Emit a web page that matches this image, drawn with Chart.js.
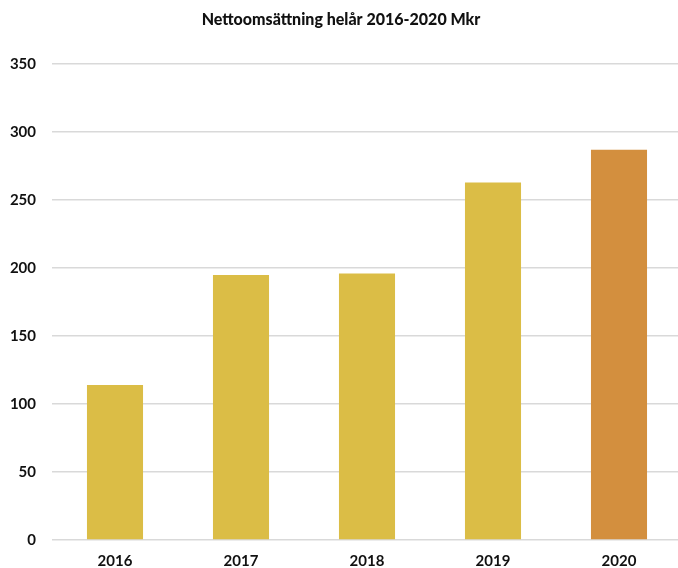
<!DOCTYPE html>
<html>
<head>
<meta charset="utf-8">
<script src="https://cdn.jsdelivr.net/npm/chart.js@4/dist/chart.umd.min.js"></script>
<style>
  html, body { margin: 0; padding: 0; background: #fff; overflow: hidden; }
  #wrap { width: 682px; height: 568px; }
</style>
</head>
<body>
<div id="wrap"><canvas id="nettoChart" width="682" height="568"></canvas></div>
<script>
// data
let years = ["2016", "2017", "2018", "2019", "2020"];
let netSales = [114, 195, 196, 263, 287];
let barColors = ["#DBBD46", "#DBBD46", "#DBBD46", "#DBBD46", "#D38F3E"];
let yTicks = [0, 50, 100, 150, 200, 250, 300, 350];

let fontFamily = "Lato, 'Open Sans', sans-serif";

let ctx = document.getElementById("nettoChart").getContext("2d");

let nettoChart = new Chart(ctx, {
    type: 'bar',
    data: {
        labels: years,
        datasets: [{
            label: "Nettoomsättning",
            data: netSales,
            backgroundColor: barColors,
            borderWidth: 0,
            barPercentage: 0.445,
            categoryPercentage: 1
        }]
    },
    options: {
        responsive: false,
        animation: false,
        layout: { padding: 0 },
        plugins: {
            legend: { display: false },
            tooltip: { enabled: false },
            title: {
                display: true,
                text: "Nettoomsättning helår 2016-2020 Mkr",
                color: '#111',
                font: { family: fontFamily, size: 16, weight: '900' },
                padding: { top: 10, bottom: 35 }
            }
        },
        scales: {
            x: {
                afterFit: function(scale) { scale.height = 28; },
                grid: { display: false, drawTicks: false },
                border: { display: false },
                ticks: {
                    color: '#111',
                    padding: 12,
                    font: { family: fontFamily, size: 15, weight: 'bold' }
                }
            },
            y: {
                min: 0,
                max: 350,
                afterFit: function(scale) { scale.width = 52; },
                afterBuildTicks: function(scale) {
                    scale.ticks = yTicks.map(function(v) { return { value: v }; });
                },
                grid: { color: '#d9d9d9', lineWidth: 1.5, drawTicks: false },
                border: { display: false },
                ticks: {
                    color: '#111',
                    padding: 16,
                    font: { family: fontFamily, size: 15, weight: 'bold' }
                }
            }
        }
    }
});
</script>
</body>
</html>
